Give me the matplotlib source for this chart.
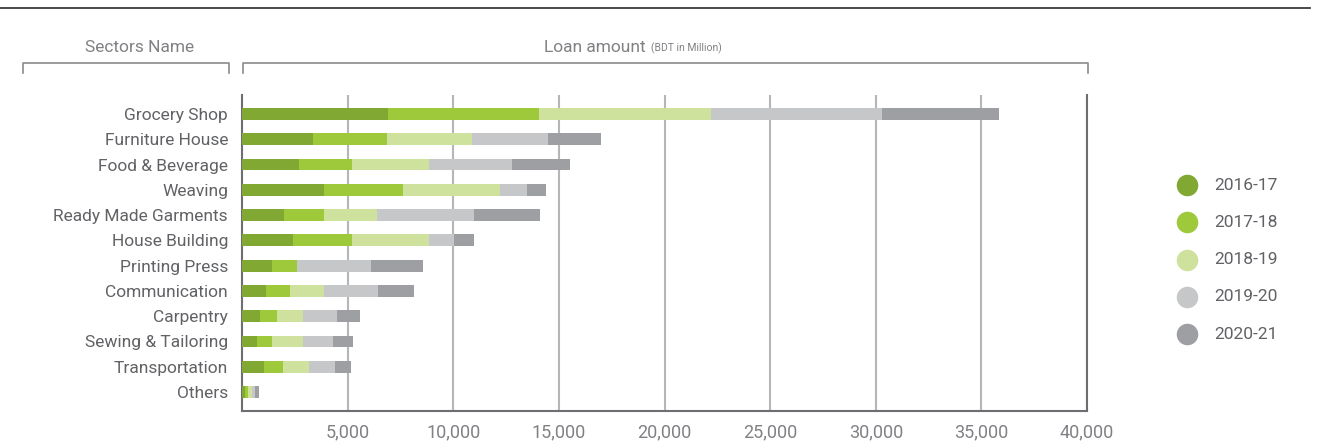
import numpy as np
import matplotlib.pyplot as plt
from matplotlib.lines import Line2D

plt.rcParams["font.family"] = ["Roboto", "DejaVu Sans"]

sectors = [
    "Grocery Shop", "Furniture House", "Food & Beverage", "Weaving",
    "Ready Made Garments", "House Building", "Printing Press", "Communication",
    "Carpentry", "Sewing & Tailoring", "Transportation", "Others",
]
years = ["2016-17", "2017-18", "2018-19", "2019-20", "2020-21"]

# loan amount per year (BDT in Million)
y1617 = [6910, 3360, 2700, 3880, 1990, 2410, 1420, 1140, 850, 710, 1040, 140]
y1718 = [7150, 3500, 2510, 3740, 1890, 2800, 1180, 1130, 810, 710, 900, 140]
y1819 = [8160, 4030, 3640, 4590, 2510, 3640, 0, 1610, 1230, 1470, 1230, 190]
y1920 = [8080, 3600, 3930, 1280, 4590, 1190, 3510, 2560, 1610, 1420, 1230, 150]
y2021 = [5530, 2500, 2750, 900, 3130, 940, 2460, 1700, 1090, 940, 760, 180]

colors = ["#80a832", "#9dc93b", "#cfe29d", "#c6c7c9", "#9e9fa3"]
xticks = [5000, 10000, 15000, 20000, 25000, 30000, 35000, 40000]

W, H = 1325, 445
fig = plt.figure(figsize=(W / 100, H / 100), dpi=100)
ax = fig.add_axes([242 / W, 34 / H, 845 / W, 316 / H])

ypos = np.arange(len(sectors))[::-1]
left = np.zeros(len(sectors))
for vals, c, lab in zip([y1617, y1718, y1819, y1920, y2021], colors, years):
    ax.barh(ypos, vals, left=left, height=0.47, color=c, label=lab, zorder=3)
    left += np.array(vals)

ax.set_xlim(0, 40000)
ax.set_ylim(-0.75, 11.75)
ax.set_xticks(xticks)
ax.set_xticklabels([f"{v:,}" for v in xticks], fontsize=13, color="#808184")
ax.set_yticks(ypos)
ax.set_yticklabels(sectors, fontsize=12.5, color="#616265")
ax.tick_params(axis="both", length=0)
ax.tick_params(axis="y", pad=10)
ax.tick_params(axis="x", pad=9)
ax.grid(axis="x", color="#b5b6b8", lw=1.5, zorder=0)
ax.spines["top"].set_visible(False)
for s in ["left", "bottom", "right"]:
    ax.spines[s].set_color("#6d6e71")
    ax.spines[s].set_linewidth(1.5)

# top rule
fig.add_artist(Line2D([0, 1310 / W], [1 - 8 / H, 1 - 8 / H], color="#3a3a3a", lw=1.3))

# header labels and brackets
fig.text(140 / W, 1 - 47 / H, "Sectors Name", ha="center", va="center",
         fontsize=12.5, color="#808184")
fig.text(646 / W, 1 - 47 / H, "Loan amount", ha="right", va="center",
         fontsize=12.5, color="#808184")
fig.text(651 / W, 1 - 48 / H, "(BDT in Million)", ha="left", va="center",
         fontsize=7.5, color="#808184")
for x0, x1 in [(23, 229), (243, 1088)]:
    fig.add_artist(Line2D([x0 / W, x0 / W, x1 / W, x1 / W],
                          [1 - 73 / H, 1 - 63 / H, 1 - 63 / H, 1 - 73 / H],
                          color="#8a8b8e", lw=1.2))

# legend
for i, (c, lab) in enumerate(zip(colors, years)):
    yy = 1 - (185 + i * 37.3) / H
    fig.add_artist(Line2D([1187 / W], [yy], marker="o", markersize=14.5,
                          color=c, linestyle="none"))
    fig.text(1214 / W, yy, lab, ha="left", va="center", fontsize=12.5,
             color="#616265")

fig.savefig("out.png", dpi=100)
